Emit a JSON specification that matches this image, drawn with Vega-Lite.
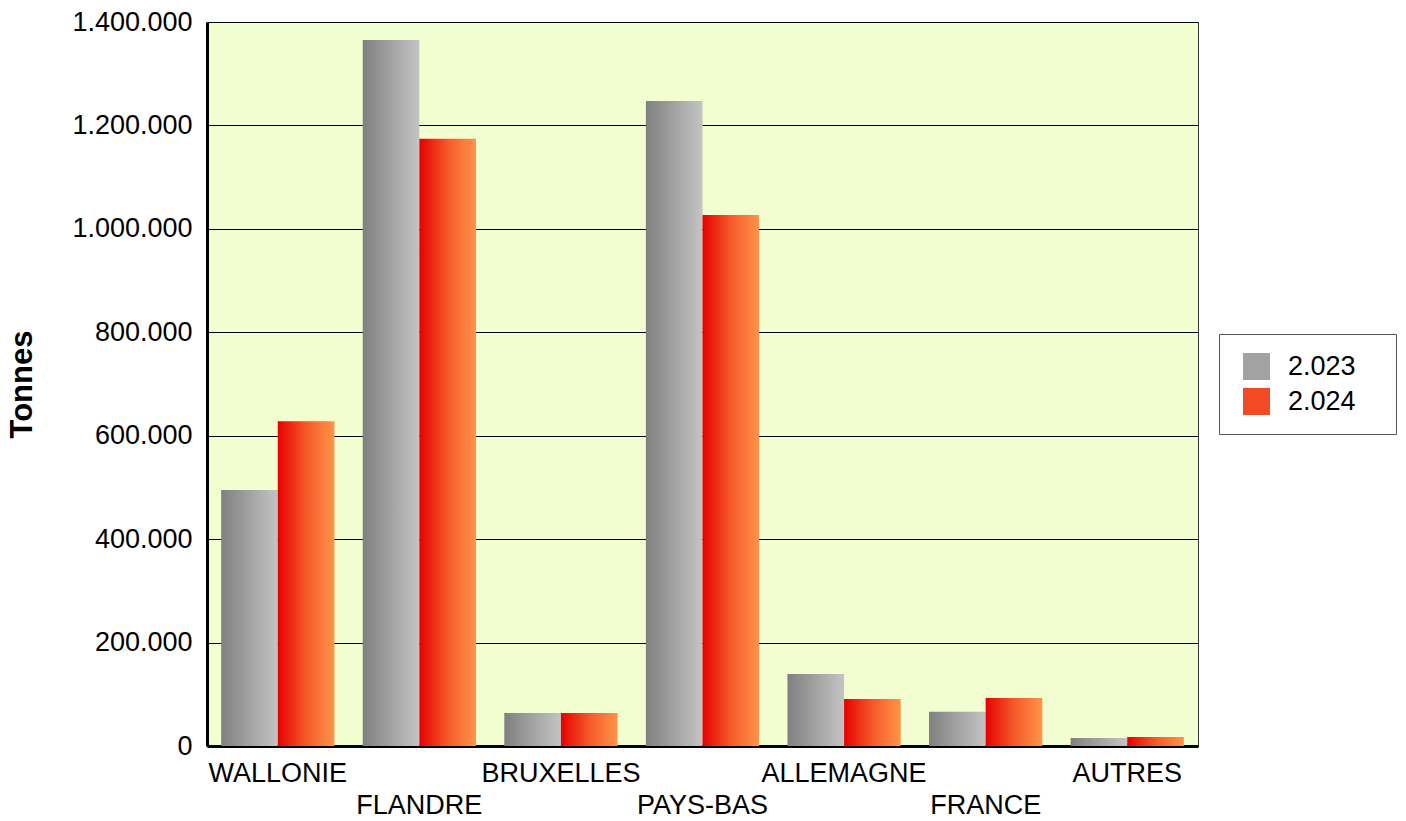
{
  "$schema": "https://vega.github.io/schema/vega-lite/v6.json",
  "width": 991,
  "height": 724,
  "autosize": {"type": "none"},
  "padding": {"left": 207, "top": 22, "right": 208, "bottom": 75},
  "background": "#ffffff",
  "config": {
    "locale": {"number": {"decimal": ",", "thousands": ".", "grouping": [3], "currency": ["", " €"]}},
    "font": "Liberation Sans",
    "view": {"fill": "#f2fdd0", "stroke": "#333333", "strokeWidth": 1}
  },
  "data": {
    "values": [
      {"region": "WALLONIE", "year": "2.023", "tonnes": 495000},
      {"region": "WALLONIE", "year": "2.024", "tonnes": 628000},
      {"region": "FLANDRE", "year": "2.023", "tonnes": 1365000},
      {"region": "FLANDRE", "year": "2.024", "tonnes": 1174000},
      {"region": "BRUXELLES", "year": "2.023", "tonnes": 64000},
      {"region": "BRUXELLES", "year": "2.024", "tonnes": 64000},
      {"region": "PAYS-BAS", "year": "2.023", "tonnes": 1247000},
      {"region": "PAYS-BAS", "year": "2.024", "tonnes": 1027000},
      {"region": "ALLEMAGNE", "year": "2.023", "tonnes": 139000},
      {"region": "ALLEMAGNE", "year": "2.024", "tonnes": 91000},
      {"region": "FRANCE", "year": "2.023", "tonnes": 66000},
      {"region": "FRANCE", "year": "2.024", "tonnes": 93000},
      {"region": "AUTRES", "year": "2.023", "tonnes": 15500},
      {"region": "AUTRES", "year": "2.024", "tonnes": 17500}
    ]
  },
  "resolve": {"axis": {"x": "independent", "y": "independent"}, "legend": {"color": "independent"}},
  "layer": [
    {
      "mark": {"type": "bar"},
      "encoding": {
        "x": {
          "field": "region",
          "type": "nominal",
          "sort": null,
          "scale": {"paddingInner": 0.2, "paddingOuter": 0.1},
          "axis": {
            "title": null,
            "ticks": false,
            "labelAngle": 0,
            "labelFontSize": 27,
            "labelColor": "#000000",
            "labelPadding": 14,
            "labelOverlap": false,
            "labelBound": false,
            "labelLimit": 400,
            "labelBaseline": "top",
            "labelLineHeight": 32,
            "labelExpr": "indexof(['FLANDRE','PAYS-BAS','FRANCE'], datum.value) >= 0 ? ['', datum.label] : datum.label",
            "domainColor": "#000000",
            "domainWidth": 3
          }
        },
        "xOffset": {"field": "year", "type": "nominal", "scale": {"paddingInner": 0, "paddingOuter": 0}},
        "y": {
          "field": "tonnes",
          "type": "quantitative",
          "scale": {"domain": [0, 1400000], "nice": false},
          "axis": {
            "title": "Tonnes",
            "titleFontSize": 31,
            "titleFontWeight": "bold",
            "titleColor": "#000000",
            "titlePadding": 33,
            "values": [0, 200000, 400000, 600000, 800000, 1000000, 1200000, 1400000],
            "format": ",d",
            "ticks": false,
            "labelFontSize": 27,
            "labelColor": "#000000",
            "labelPadding": 15,
            "domainColor": "#000000",
            "domainWidth": 3,
            "grid": true,
            "gridColor": "#000000",
            "gridWidth": 1
          }
        },
        "color": {
          "condition": {
            "test": "datum.year === '2.023'",
            "value": {"gradient": "linear", "x1": 0, "y1": 0, "x2": 1, "y2": 0, "stops": [{"offset": 0, "color": "#808080"}, {"offset": 1, "color": "#c4c4c4"}]}
          },
          "value": {"gradient": "linear", "x1": 0, "y1": 0, "x2": 1, "y2": 0, "stops": [{"offset": 0, "color": "#e60000"}, {"offset": 0.5, "color": "#f45a2a"}, {"offset": 1, "color": "#ff9448"}]}
        }
      }
    },
    {
      "mark": {"type": "bar", "strokeWidth": 0},
      "encoding": {
        "x": {"field": "region", "type": "nominal", "sort": null, "axis": null},
        "xOffset": {"field": "year", "type": "nominal"},
        "y": {"datum": 0, "type": "quantitative", "axis": null},
        "color": {
          "field": "year",
          "type": "nominal",
          "scale": {"domain": ["2.023", "2.024"], "range": ["#a2a2a2", "#f24a24"]},
          "legend": {
            "title": "\u00a0",
            "titleOrient": "right",
            "titleFontSize": 1,
            "titlePadding": 21,
            "orient": "none",
            "legendX": 1012,
            "legendY": 312,
            "padding": 19,
            "symbolOffset": 5,
            "symbolType": "square",
            "symbolSize": 729,
            "symbolStrokeWidth": 0,
            "labelFontSize": 27,
            "labelColor": "#000000",
            "labelOffset": 18,
            "rowPadding": 7,
            "strokeColor": "#555555",
            "fillColor": "#ffffff"
          }
        }
      }
    }
  ]
}
